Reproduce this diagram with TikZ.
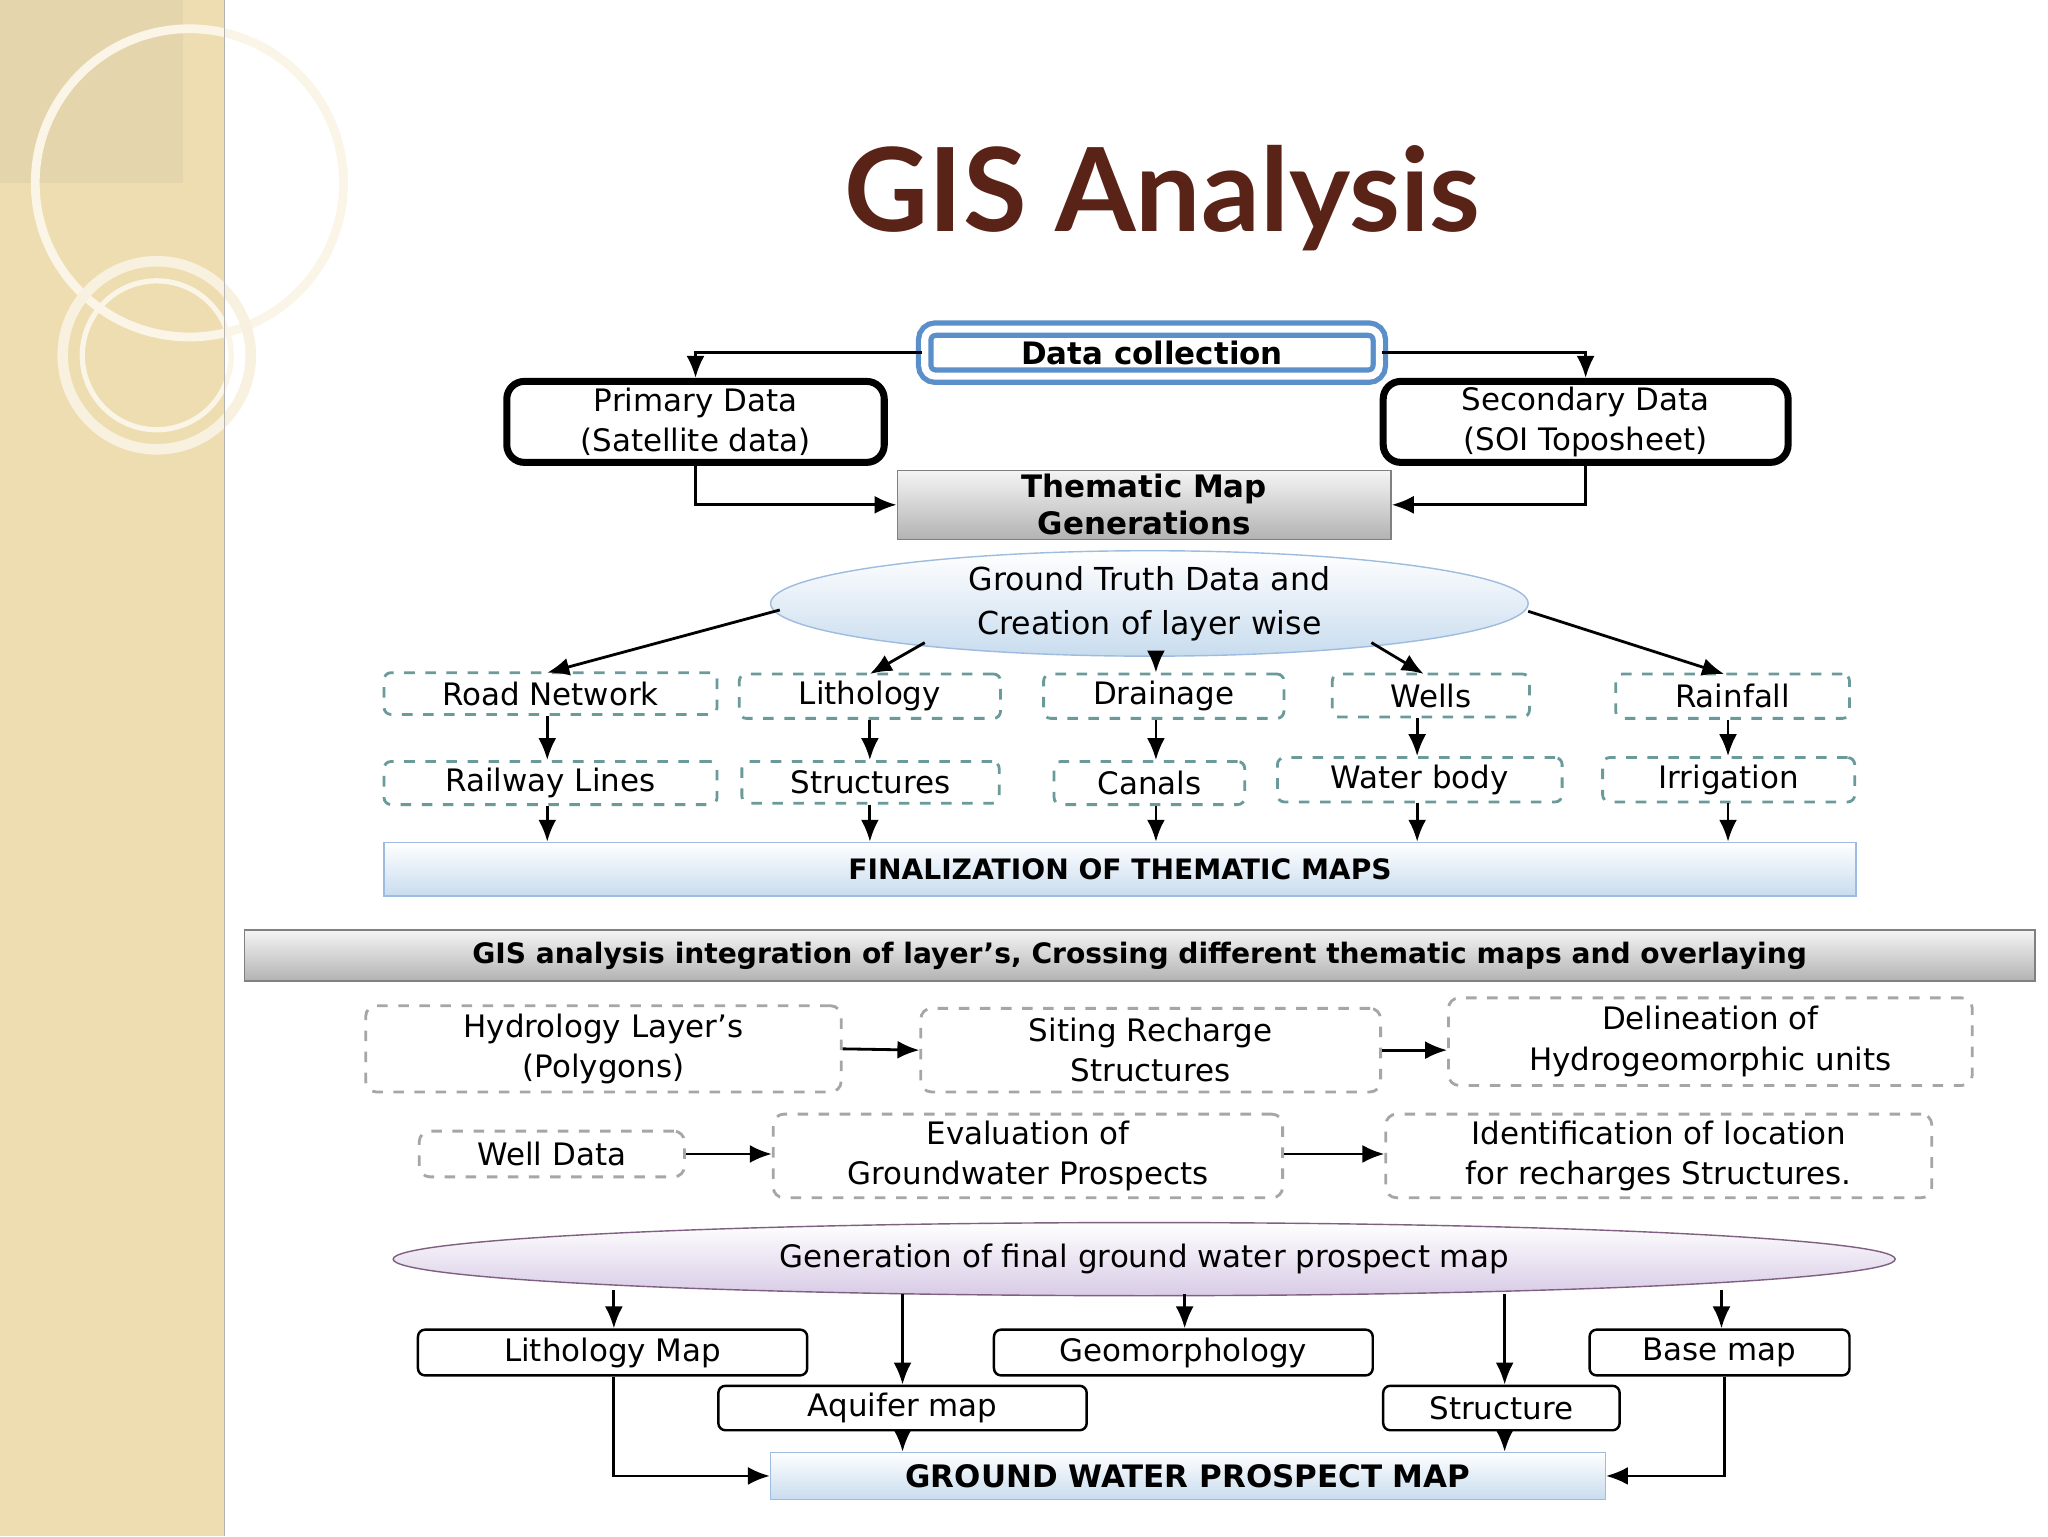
\documentclass[tikz,border=0pt]{standalone}
\usepackage{fontspec}
\setmainfont{DejaVu Sans}
\newfontfamily\titlefont{Lato}
\usetikzlibrary{arrows.meta,shapes.geometric}
\definecolor{strip}{HTML}{EEDDB0}
\definecolor{titlec}{HTML}{5A2318}
\definecolor{dteal}{HTML}{6A9A9A}
\definecolor{steel}{HTML}{5B8FC9}
\definecolor{lblue}{HTML}{C8DCEE}
\definecolor{lviolet}{HTML}{D8CBE6}
\begin{document}
\begin{tikzpicture}[x=0.1306mm,y=-0.1306mm,
  lbl/.style={font=\fontsize{8.8}{11.5}\selectfont,align=center,inner sep=0pt},
  blbl/.style={font=\bfseries\fontsize{8}{10.5}\selectfont,align=center,inner sep=0pt},
  solidbox/.style={draw,rounded corners=2pt,line width=0.7pt,lbl},
  thick box/.style={draw,rounded corners=5pt,line width=2pt,lbl},
  dbox/.style={draw=dteal,dashed,line width=0.8pt,rounded corners=2pt,lbl},
  gbox/.style={draw=gray!70,dashed,line width=0.8pt,rounded corners=3pt,lbl},
  graybar/.style={draw=gray,top color=gray!8,bottom color=gray!60,blbl},
  bluebar/.style={draw=steel!60,top color=white,bottom color=lblue,blbl},
  arr/.style={-{Latex[length=2.2mm,width=1.8mm]},line width=0.8pt}]
\useasboundingbox (0,0) rectangle (1568,1176);
\fill[white] (0,0) rectangle (1568,1176);
% left strip
\fill[strip] (0,0) rectangle (172,1176);
\fill[gray,opacity=0.08] (0,0) rectangle (140,140);
\draw[white!70!strip,line width=2.5pt] (145,140) circle (118);
\draw[white!60!strip,line width=3pt] (120,272) circle (72);
\draw[white!70!strip,line width=1.5pt] (120,272) circle (57);
\draw[gray!60] (172,0) -- (172,1176);
\newcommand{\bx}[7]{\node[#2,minimum width={(#5-#3)*0.1306mm},minimum height={(#6-#4)*0.1306mm}] (#1) at ({(#3+#5)/2},{(#4+#6)/2}) {#7};}
% title
\node[font=\titlefont\bfseries\fontsize{33}{38}\selectfont,text=titlec] (title) at (890,152) {GIS Analysis};
% top
\node[draw=steel,double=white,double distance=2pt,line width=1.5pt,rounded corners=3pt,blbl,minimum width={348*0.1306mm},minimum height={36*0.1306mm},font=\bfseries\fontsize{8.8}{11}\selectfont] (dc) at (882,270) {Data collection};
\bx{prim}{thick box}{388}{292}{677}{354}{Primary Data\\(Satellite data)}
\bx{sec}{thick box}{1059}{292}{1369}{354}{Secondary Data\\(SOI Toposheet)}
\bx{them}{graybar}{687}{360}{1065}{413}{\fontsize{8.8}{12.5}\selectfont Thematic Map\\\fontsize{8.8}{12.5}\selectfont Generations}
\draw[arr] (dc.west) -| (prim.north);
\draw[arr] (dc.east) -| (sec.north);
\draw[arr] (prim.south) |- (them.west);
\draw[arr] (sec.south) |- (them.east);
\node[ellipse,draw=steel!60,top color=white,bottom color=lblue,minimum width={580*0.1306mm},minimum height={76*0.1306mm},lbl,font=\fontsize{9}{12.5}\selectfont] (gt) at (880,462) {Ground Truth Data and\\Creation of layer wise};
% rows
\bx{road}{dbox}{294}{515}{549}{547}{Road Network}
\bx{lith}{dbox}{566}{516}{766}{550}{Lithology}
\bx{drain}{dbox}{799}{516}{983}{550}{Drainage}
\bx{wells}{dbox}{1020}{516}{1171}{549}{Wells}
\bx{rain}{dbox}{1237}{516}{1416}{550}{Rainfall}
\bx{rail}{dbox}{294}{583}{549}{616}{Railway Lines}
\bx{struc}{dbox}{568}{583}{765}{615}{Structures}
\bx{canal}{dbox}{807}{583}{953}{616}{Canals}
\bx{water}{dbox}{978}{580}{1196}{614}{Water body}
\bx{irr}{dbox}{1227}{580}{1420}{614}{Irrigation}
\coordinate (g1) at (597,467); \coordinate (g2) at (708,492); \coordinate (g3) at (885,500);
\coordinate (g4) at (1050,492); \coordinate (g5) at (1170,468);
\draw[arr] (g1) -- (419,515);
\draw[arr] (g2) -- (666,516);
\draw[arr] (g3) -- (drain.north -| g3);
\draw[arr] (g4) -- (1090,516);
\draw[arr] (g5) -- (1320,516);
\bx{final}{bluebar}{294}{645}{1421}{686}{FINALIZATION OF THEMATIC MAPS}
\foreach \a/\b/\x in {road/rail/419,lith/struc/666,drain/canal/885,wells/water/1085,rain/irr/1323}{
  \draw[arr] (\x,0 |- \a.south) -- (\x,0 |- \b.north);
  \draw[arr] (\x,0 |- \b.south) -- (\x,0 |- final.north);
}
\bx{gis}{graybar}{187}{712}{1558}{751}{GIS analysis integration of layer’s, Crossing different thematic maps and overlaying}
\bx{hyd}{gbox}{280}{770}{644}{836}{Hydrology Layer’s\\(Polygons)}
\bx{sit}{gbox}{705}{772}{1057}{836}{Siting Recharge\\Structures}
\bx{del}{gbox}{1109}{764}{1510}{831}{Delineation of\\Hydrogeomorphic units}
\bx{well}{gbox}{321}{866}{524}{901}{Well Data}
\bx{eval}{gbox}{592}{853}{982}{917}{Evaluation of\\Groundwater Prospects}
\bx{ident}{gbox}{1061}{853}{1479}{917}{Identification of location\\for recharges Structures.}
\draw[arr] (hyd.east) -- (sit.west);
\draw[arr] (sit.east) -- (del.west |- sit.east);
\draw[arr] (well.east) -- (eval.west |- well.east);
\draw[arr] (eval.east |- well.east) -- (ident.west |- well.east);
\node[ellipse,draw=violet!25!gray,top color=white,bottom color=lviolet,minimum width={1150*0.1306mm},minimum height={56*0.1306mm},lbl] (gen) at (876,964) {Generation of final ground water prospect map};
\bx{lmap}{solidbox}{320}{1018}{618}{1053}{Lithology Map}
\bx{geo}{solidbox}{761}{1018}{1051}{1053}{Geomorphology}
\bx{base}{solidbox}{1217}{1018}{1416}{1053}{Base map}
\bx{aq}{solidbox}{550}{1061}{832}{1095}{Aquifer map}
\bx{st}{solidbox}{1059}{1061}{1240}{1095}{Structure}
\bx{gw}{bluebar}{590}{1112}{1229}{1148}{\fontsize{8.8}{11}\selectfont GROUND WATER PROSPECT MAP}
\draw[arr] (470,988) -- (470,0 |- lmap.north);
\draw[arr] (691,991) -- (691,0 |- aq.north);
\draw[arr] (907,991) -- (907,0 |- geo.north);
\draw[arr] (1152,991) -- (1152,0 |- st.north);
\draw[arr] (1318,988) -- (1318,0 |- base.north);
\draw[arr] (470,0 |- lmap.south) |- (gw.west);
\draw[arr] (1320,0 |- base.south) |- (gw.east);
\draw[arr] (691,0 |- aq.south) -- (691,0 |- gw.north);
\draw[arr] (1152,0 |- st.south) -- (1152,0 |- gw.north);
\end{tikzpicture}
\end{document}
